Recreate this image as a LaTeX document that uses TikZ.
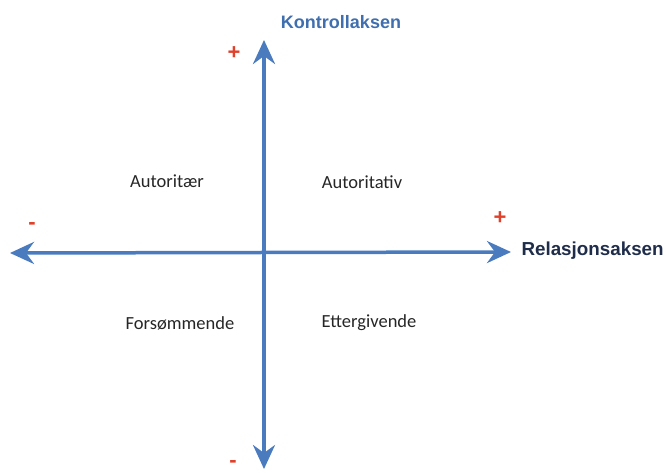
\documentclass[tikz,border=0pt]{standalone}
\usepackage{fontspec}
\setmainfont{Carlito}
\newfontfamily\headfont{Liberation Sans}
\usetikzlibrary{arrows.meta}
\definecolor{axisblue}{HTML}{4A7BBF}
\definecolor{headblue}{HTML}{3F6FAF}
\definecolor{navy}{HTML}{1F2D4A}
\definecolor{plusred}{HTML}{E0412B}
\tikzset{
  axis/.style={line width=3.5pt, draw=axisblue, {Stealth[length=24pt,width=22pt,inset=8pt]}-{Stealth[length=24pt,width=22pt,inset=8pt]}},
  quad/.style={font=\fontsize{18.5}{20}\selectfont, text=black!85},
  sign/.style={font=\headfont\bfseries\fontsize{22}{24}\selectfont, text=plusred},
}
\begin{document}
\begin{tikzpicture}[x=1pt,y=-1pt]
\useasboundingbox[fill=white] (0,0) rectangle (666,473);
\coordinate (top) at (264,40);
\coordinate (bot) at (264,469);
\coordinate (left) at (10,253);
\coordinate (right) at (511,252);
\draw[axis] (left) -- (right);
\draw[axis] (bot) -- (top);
\node[font=\headfont\bfseries\fontsize{18}{20}\selectfont, text=headblue] (kontroll) at (341,22) {Kontrollaksen};
\node[font=\headfont\bfseries\fontsize{18.8}{20}\selectfont, text=navy, anchor=west] (relasjon) at (518,251) {Relasjonsaksen};
\node[sign] (p1) at (234,53) {+};
\node[sign] (p2) at (500,218) {+};
\node[sign] (m1) at (32,226) {-};
\node[sign] (m2) at (233,464) {-};
\node[quad] (a1) at (167,181) {Autoritær};
\node[quad] (a2) at (362,182) {Autoritativ};
\node[quad] (a3) at (180,323) {Forsømmende};
\node[quad] (a4) at (369,323) {Ettergivende};
\end{tikzpicture}
\end{document}
